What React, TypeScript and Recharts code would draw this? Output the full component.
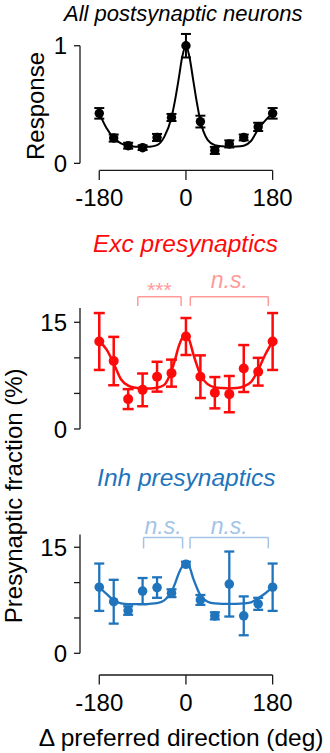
import React from 'react';
import { ComposedChart, Line, Scatter, ErrorBar, XAxis, YAxis, ReferenceLine } from 'recharts';

const FONT = '"Liberation Sans", Arial, Helvetica, sans-serif';

// ---- data ----
const angles = [-180, -150, -120, -90, -60, -30, 0, 30, 60, 90, 120, 150, 180];
const xTicks = [-180, 0, 180];

const responseMean = [0.425, 0.215, 0.15, 0.133, 0.22, 0.39, 1.0, 0.355, 0.11, 0.165, 0.22, 0.31, 0.425];
const responseErr = [0.045, 0.03, 0.025, 0.02, 0.03, 0.03, 0.1, 0.05, 0.03, 0.03, 0.025, 0.035, 0.045];

const excMean = [12.3, 9.55, 4.2, 5.5, 7.35, 7.85, 13.0, 7.35, 5.1, 4.9, 8.5, 8.05, 12.3];
const excErr = [4.0, 3.4, 1.4, 2.3, 2.1, 1.9, 2.6, 3.0, 2.2, 2.55, 3.3, 1.95, 4.0];

const inhMean = [9.35, 7.3, 6.05, 8.8, 9.3, 8.5, 12.6, 7.55, 5.3, 9.8, 5.3, 7.0, 9.35];
const inhErr = [3.35, 3.1, 0.6, 1.85, 1.45, 0.55, 0.35, 0.7, 0.5, 4.6, 2.75, 0.85, 3.35];

const fitAngles = [-180, -165, -150, -135, -120, -105, -90, -75, -60, -45, -30, -22.5, -15, -7.5, 0, 7.5, 15, 22.5, 30, 45, 60, 75, 90, 105, 120, 135, 150, 165, 180];
const responseFit = [0.425, 0.3, 0.215, 0.17, 0.15, 0.142, 0.14, 0.142, 0.155, 0.225, 0.39, 0.54, 0.72, 0.91, 1.0, 0.9, 0.71, 0.52, 0.36, 0.2, 0.155, 0.145, 0.142, 0.143, 0.15, 0.19, 0.29, 0.365, 0.425];
const excFit = [12.3, 11.2, 9.2, 7.0, 6.1, 5.8, 5.7, 5.7, 5.8, 6.2, 8.2, 9.8, 11.6, 12.8, 13.2, 12.4, 10.6, 9.0, 7.6, 6.3, 5.85, 5.75, 5.7, 5.75, 6.0, 6.6, 8.3, 10.5, 12.3];
const inhFit = [9.35, 8.4, 7.5, 7.05, 6.95, 6.95, 6.95, 7.0, 7.1, 7.5, 8.7, 9.9, 11.3, 12.3, 12.7, 12.2, 10.6, 9.3, 8.2, 7.3, 7.05, 7.0, 7.0, 7.0, 7.05, 7.2, 7.8, 8.5, 9.35];

const excBrackets = [
  { x1: -100, x2: -10, label: '***' },
  { x1: 9, x2: 171, label: 'n.s.' },
];
const inhBrackets = [
  { x1: -88, x2: -7, label: 'n.s.' },
  { x1: 8.5, x2: 171, label: 'n.s.' },
];

const RED = '#ff0a0a';
const RED_LIGHT = '#ff9a9a';
const BLUE = '#1f74bc';
const BLUE_LIGHT = '#a3c4e6';
const AXIS = '#1a1a1a';

type Bracket = { x1: number; x2: number; label: string };

type PanelProps = {
  top: number;
  marginTop: number;
  marginBottom: number;
  plotH: number;
  showX: boolean;
  yDomain: [number, number];
  yTicks: number[];
  yLabelTicks: number[];
  yAxisTop: number;
  points: { x: number; y: number; err: number }[];
  fit: { x: number; y: number }[];
  color: string;
  dotR: number;
  barW: number;
  strokeW: number;
  brackets?: Bracket[];
  bracketY?: number;
  bracketDrop?: number;
  bracketColor?: string;
  labelOffsets?: number[];
};

function Panel(p: PanelProps) {
  const xAxisH = p.showX ? 40 : 0;
  const height = p.marginTop + p.plotH + xAxisH + p.marginBottom;
  const shape = (s: any) => <circle cx={s.cx} cy={s.cy} r={p.dotR} fill={p.color} />;
  return (
    <div style={{ position: 'absolute', left: 0, top: p.top, width: 330, height }}>
      <ComposedChart width={330} height={height} margin={{ top: p.marginTop, right: 38.1, bottom: p.marginBottom, left: 0 }}>
        <XAxis
          type="number"
          dataKey="x"
          domain={[-220, 220]}
          ticks={xTicks}
          interval={0}
          hide={!p.showX}
          height={xAxisH}
          axisLine={false}
          tickLine={{ stroke: AXIS, strokeWidth: 1.3 }}
          tickSize={9.5}
          tickMargin={9}
          tick={{ fontSize: 24, fill: '#000', fontFamily: FONT }}
        />
        <YAxis
          type="number"
          dataKey="y"
          domain={p.yDomain}
          ticks={p.yTicks}
          interval={0}
          width={80}
          axisLine={false}
          tickLine={{ stroke: AXIS, strokeWidth: 1.3 }}
          tickSize={6}
          tickMargin={7}
          tickFormatter={(v: number) => (p.yLabelTicks.indexOf(v) >= 0 ? String(v) : '')}
          tick={{ fontSize: 24, fill: '#000', fontFamily: FONT }}
        />
        <ReferenceLine
          segment={[{ x: -220, y: 0 }, { x: -220, y: p.yAxisTop }]}
          stroke={AXIS}
          strokeWidth={1.3}
          ifOverflow="visible"
        />
        {p.showX && (
          <ReferenceLine
            segment={[{ x: -180, y: p.yDomain[0] }, { x: 180, y: p.yDomain[0] }]}
            stroke={AXIS}
            strokeWidth={1.3}
            ifOverflow="visible"
          />
        )}
        {(p.brackets || []).map((b, i) => (
          <ReferenceLine
            key={'bh' + i}
            segment={[{ x: b.x1, y: p.bracketY as number }, { x: b.x2, y: p.bracketY as number }]}
            stroke={p.bracketColor}
            strokeWidth={1.5}
            ifOverflow="visible"
            label={{
              value: b.label,
              position: 'top',
              offset: p.labelOffsets ? p.labelOffsets[i] : 6,
              fill: p.bracketColor,
              fontSize: b.label === '***' ? 21 : 23,
              fontStyle: b.label === '***' ? 'normal' : 'italic',
              fontFamily: FONT,
            }}
          />
        ))}
        {(p.brackets || []).map((b, i) => (
          <ReferenceLine
            key={'bl' + i}
            segment={[{ x: b.x1, y: p.bracketY as number }, { x: b.x1, y: (p.bracketY as number) - (p.bracketDrop as number) }]}
            stroke={p.bracketColor}
            strokeWidth={1.5}
            ifOverflow="visible"
          />
        ))}
        {(p.brackets || []).map((b, i) => (
          <ReferenceLine
            key={'br' + i}
            segment={[{ x: b.x2, y: p.bracketY as number }, { x: b.x2, y: (p.bracketY as number) - (p.bracketDrop as number) }]}
            stroke={p.bracketColor}
            strokeWidth={1.5}
            ifOverflow="visible"
          />
        ))}
        <Line
          data={p.fit}
          dataKey="y"
          type="monotone"
          stroke={p.color}
          strokeWidth={p.strokeW}
          dot={false}
          activeDot={false}
          isAnimationActive={false}
        />
        <Scatter data={p.points} dataKey="y" fill={p.color} shape={shape} isAnimationActive={false}>
          <ErrorBar dataKey="err" direction="y" width={p.barW} stroke={p.color} strokeWidth={p.strokeW} isAnimationActive={false} />
        </Scatter>
      </ComposedChart>
    </div>
  );
}

const responsePoints = angles.map((x, i) => ({ x, y: responseMean[i], err: responseErr[i] }));
const excPoints = angles.map((x, i) => ({ x, y: excMean[i], err: excErr[i] }));
const inhPoints = angles.map((x, i) => ({ x, y: inhMean[i], err: inhErr[i] }));
const responseFitData = fitAngles.map((x, i) => ({ x, y: responseFit[i] }));
const excFitData = fitAngles.map((x, i) => ({ x, y: excFit[i] }));
const inhFitData = fitAngles.map((x, i) => ({ x, y: inhFit[i] }));

export default function App() {
  return (
    <div style={{ position: 'absolute', left: 0, top: 0, width: 330, height: 753, background: '#fff', overflow: 'hidden', fontFamily: FONT }}>
      <Panel
        top={0}
        marginTop={22.2}
        marginBottom={0}
        plotH={148.2}
        showX={true}
        yDomain={[-0.06, 1.2]}
        yTicks={[0, 1]}
        yLabelTicks={[0, 1]}
        yAxisTop={1}
        points={responsePoints}
        fit={responseFitData}
        color="#000"
        dotR={4.7}
        barW={5}
        strokeW={2}
      />
      <Panel
        top={260}
        marginTop={12.5}
        marginBottom={24}
        plotH={163.6}
        showX={false}
        yDomain={[-1, 22]}
        yTicks={[0, 5, 10, 15]}
        yLabelTicks={[0, 15]}
        yAxisTop={17}
        points={excPoints}
        fit={excFitData}
        color={RED}
        dotR={5}
        barW={5.5}
        strokeW={2.5}
        brackets={excBrackets}
        bracketY={18.6}
        bracketDrop={1.3}
        bracketColor={RED_LIGHT}
        labelOffsets={[0, 8.4]}
      />
      <Panel
        top={480}
        marginTop={17.8}
        marginBottom={0}
        plotH={177.2}
        showX={true}
        yDomain={[-3.07, 22]}
        yTicks={[0, 5, 10, 15]}
        yLabelTicks={[0, 15]}
        yAxisTop={16.8}
        points={inhPoints}
        fit={inhFitData}
        color={BLUE}
        dotR={4.8}
        barW={5}
        strokeW={2.3}
        brackets={inhBrackets}
        bracketY={16.4}
        bracketDrop={1.56}
        bracketColor={BLUE_LIGHT}
        labelOffsets={[3.3, 3.3]}
      />
      <svg width={330} height={753} style={{ position: 'absolute', left: 0, top: 0, pointerEvents: 'none' }}>
        <text x={183.3} y={21} textAnchor="middle" fontSize={22} fontStyle="italic" fontFamily={FONT} fill="#000">
          All postsynaptic neurons
        </text>
        <text x={185.5} y={252.3} textAnchor="middle" fontSize={24.5} fontStyle="italic" fontFamily={FONT} fill={RED}>
          Exc presynaptics
        </text>
        <text x={186.3} y={486} textAnchor="middle" fontSize={24.5} fontStyle="italic" fontFamily={FONT} fill={BLUE}>
          Inh presynaptics
        </text>
        <text x={44.3} y={106} textAnchor="middle" fontSize={24} fontFamily={FONT} fill="#000" transform="rotate(-90 44.3 106)">
          Response
        </text>
        <text x={22} y={495.8} textAnchor="middle" fontSize={24} fontFamily={FONT} fill="#000" transform="rotate(-90 22 495.8)">
          Presynaptic fraction (%)
        </text>
        <text x={181.2} y={746} textAnchor="middle" fontSize={24.5} fontFamily={FONT} fill="#000">
          Δ preferred direction (deg)
        </text>
      </svg>
    </div>
  );
}
